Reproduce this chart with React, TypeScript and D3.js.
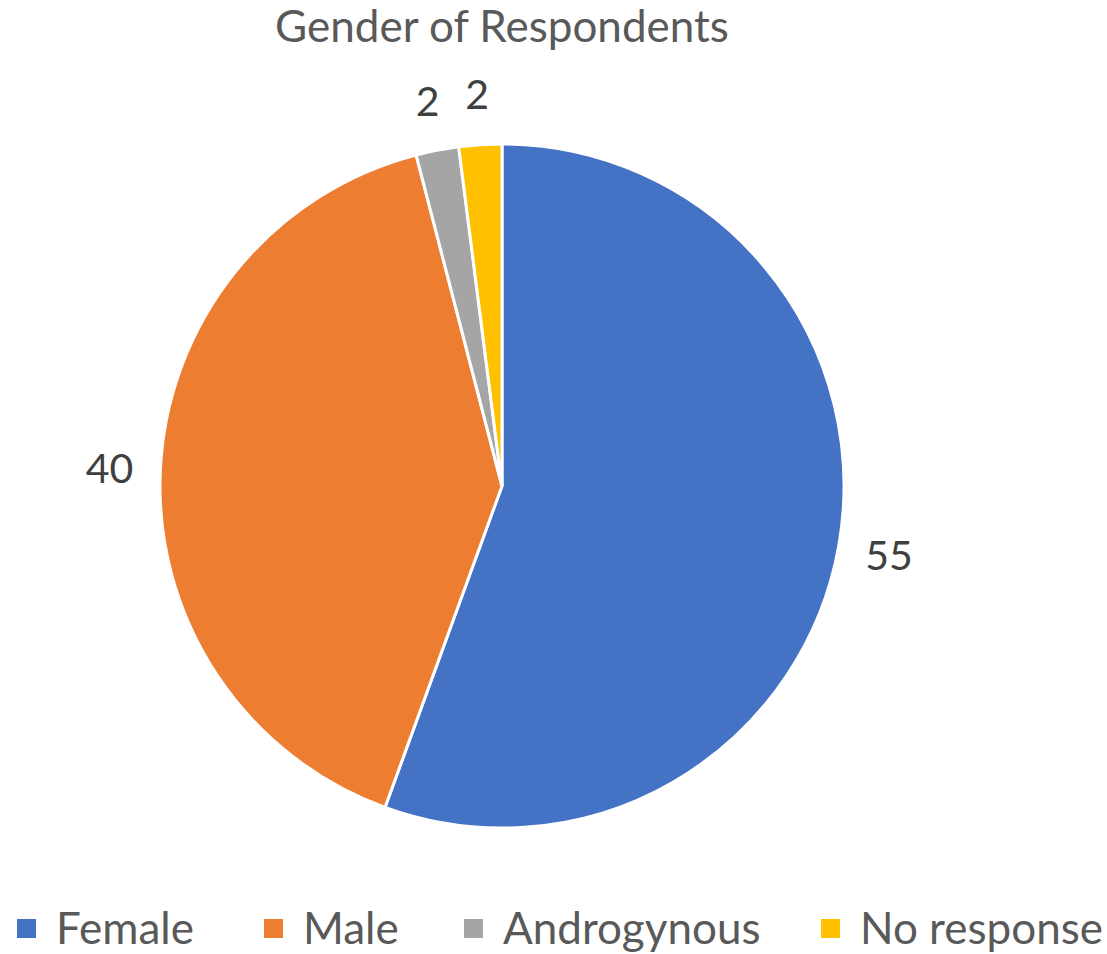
import * as React from "react";
import * as d3 from "d3";

const categories = ["Female", "Male", "Androgynous", "No response"];
const values = [55, 40, 2, 2];
const colors = ["#4472C4", "#ED7D31", "#A5A5A5", "#FFC000"];
const title = "Gender of Respondents";

const width = 1107;
const height = 954;
const cx = 502;
const cy = 486;
const radius = 342;
const labelRadius = 393;
const font = "Lato, 'Open Sans', sans-serif";

// legend x positions of the swatches
const legendX = [17, 264, 464, 821];

const App: React.FC = () => {
  const pie = d3
    .pie<number>()
    .sort(null)
    .value((d) => d);
  const arcs = pie(values);
  const arc = d3.arc<d3.PieArcDatum<number>>().innerRadius(0).outerRadius(radius);
  const labelArc = d3
    .arc<d3.PieArcDatum<number>>()
    .innerRadius(labelRadius)
    .outerRadius(labelRadius);

  return (
    <svg
      width={width}
      height={height}
      style={{ position: "absolute", left: 0, top: 0, background: "#fff" }}
    >
      <text
        x={cx}
        y={42}
        textAnchor="middle"
        fontFamily={font}
        fontSize={44}
        fill="#595959"
      >
        {title}
      </text>
      <g transform={`translate(${cx},${cy})`}>
        {arcs.map((a, i) => (
          <path key={i} d={arc(a) || ""} fill={colors[i]} stroke="#fff" strokeWidth={3} />
        ))}
        {arcs.map((a, i) => {
          const [lx, ly] = labelArc.centroid(a);
          return (
            <text
              key={"l" + i}
              x={lx}
              y={ly}
              textAnchor="middle"
              dominantBaseline="central"
              fontFamily={font}
              fontSize={41}
              fill="#404040"
            >
              {values[i]}
            </text>
          );
        })}
      </g>
      <g>
        {categories.map((c, i) => (
          <g key={c} transform={`translate(${legendX[i]},0)`}>
            <rect x={0} y={919} width={19} height={19} fill={colors[i]} />
            <text
              x={39}
              y={944}
              fontFamily={font}
              fontSize={44}
              fill="#595959"
            >
              {c}
            </text>
          </g>
        ))}
      </g>
    </svg>
  );
};

export default App;
